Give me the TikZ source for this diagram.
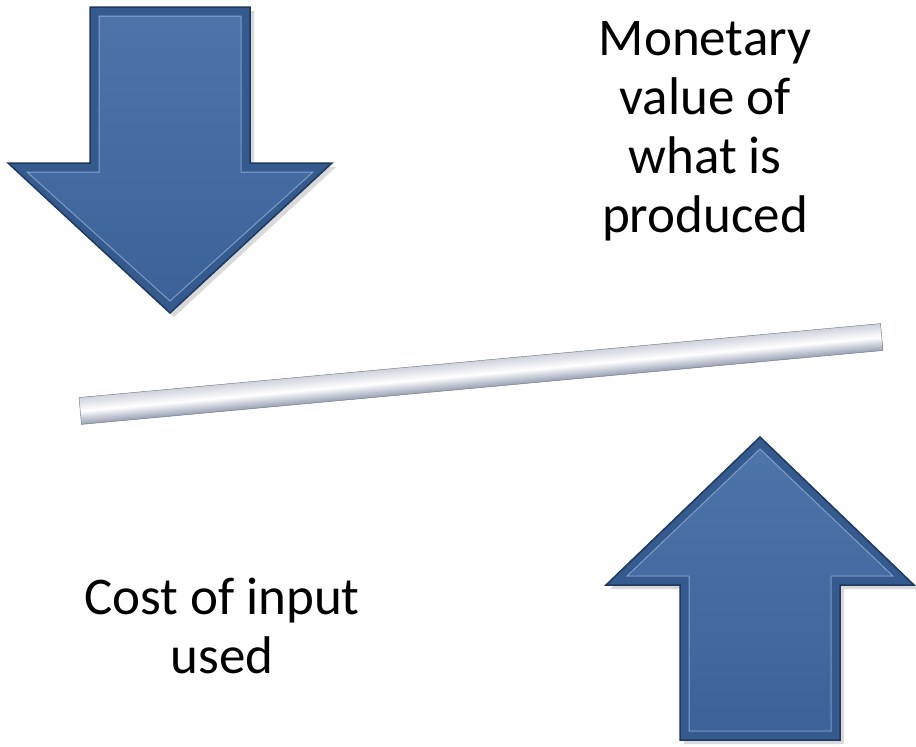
\documentclass[tikz,border=0pt]{standalone}
\usepackage{fontspec}
\setmainfont{Carlito}
\usetikzlibrary{shadows}
\definecolor{flecha}{RGB}{62,104,162}
\definecolor{flechaosc}{RGB}{30,56,94}
\definecolor{flechaclara}{RGB}{175,205,240}
\definecolor{gris}{RGB}{150,158,178}
\tikzstyle{arrowbody}=[draw=flechaosc, line width=1.5pt, line join=miter, fill=flecha!70!flechaosc, drop shadow={shadow xshift=4pt, shadow yshift=-4pt, opacity=0.3}]
\tikzstyle{arrowface}=[top color=flecha!92!white, bottom color=flecha!95!black, draw=flechaclara, line width=1pt, draw opacity=0.6, line join=miter]
\tikzstyle{barra}=[draw=gris!70!black, thin, rectangle, top color=gris!45!white, bottom color=gris, middle color=white, minimum width=805pt, minimum height=27pt, inner sep=0pt]
\tikzstyle{etiqueta}=[align=center, inner sep=0pt, font=\fontsize{53}{59}\selectfont]

\begin{document}
\begin{tikzpicture}[x=1pt,y=-1pt]
            \useasboundingbox (0,0) rectangle (916,747);
            % Flechas
            \filldraw[arrowbody] (90,7) -- (250,7) -- (250,163) -- (332,163) -- (170,313) -- (8,163) -- (90,163) -- cycle;
            \filldraw[arrowface] (99,16) -- (241,16) -- (241,172) -- (313,172) -- (170,301) -- (27,172) -- (99,172) -- cycle;
            \filldraw[arrowbody] (760,437) -- (914,585) -- (840,585) -- (840,740) -- (680,740) -- (680,585) -- (606,585) -- cycle;
            \filldraw[arrowface] (760,449) -- (893,576) -- (831,576) -- (831,731) -- (689,731) -- (689,576) -- (627,576) -- cycle;
            % Barra
            \node[barra, transform canvas={rotate around={2.635:(481,374)}}] (barra) at (481,374) {};
            % Textos
            \node[etiqueta] (valor) at (705,131) {Monetary\\value of\\what is\\produced};
            \node[etiqueta] (costo) at (222,626) {Cost of input\\used};
\end{tikzpicture}
\end{document}
